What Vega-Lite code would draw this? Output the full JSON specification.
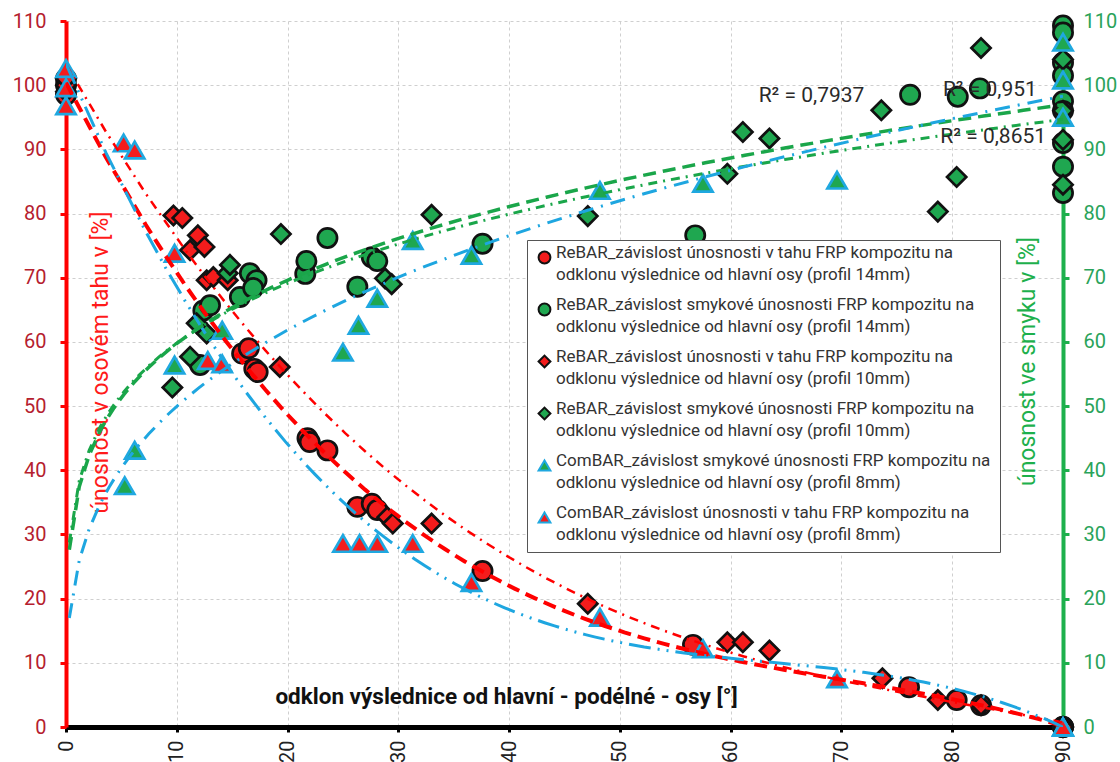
{
  "$schema": "https://vega.github.io/schema/vega-lite/v6.json",
  "width": 997,
  "height": 706,
  "autosize": "none",
  "padding": {"left": 66, "top": 21, "right": 57, "bottom": 35},
  "background": "white",
  "config": {
    "view": {"stroke": null},
    "font": "Roboto",
    "style": {"guide-label": {"lineHeight": 22}}
  },
  "datasets": {
    "names": [
      {"k": 1, "series": "ReBAR_závislost únosnosti v tahu FRP kompozitu na\nodklonu výslednice od hlavní osy (profil 14mm)"},
      {"k": 2, "series": "ReBAR_závislost smykové únosnosti FRP kompozitu na\nodklonu výslednice od hlavní osy (profil 14mm)"},
      {"k": 3, "series": "ReBAR_závislost únosnosti v tahu FRP kompozitu na\nodklonu výslednice od hlavní osy (profil 10mm)"},
      {"k": 4, "series": "ReBAR_závislost smykové únosnosti FRP kompozitu na\nodklonu výslednice od hlavní osy (profil 10mm)"},
      {"k": 5, "series": "ComBAR_závislost smykové únosnosti FRP kompozitu na\nodklonu výslednice od hlavní osy (profil 8mm)"},
      {"k": 6, "series": "ComBAR_závislost únosnosti v tahu FRP kompozitu na\nodklonu výslednice od hlavní osy (profil 8mm)"}
    ],
    "r2": [
      {"label": "R² = 0,7937", "x": 67.3, "y": 98.3},
      {"label": "R² = 0,951", "x": 83.4, "y": 99.2},
      {"label": "R² = 0,8651", "x": 83.7, "y": 91.9}
    ],
    "pts": [
      {"k": 1, "x": 0, "y": 98.5}, {"k": 1, "x": 0, "y": 100}, {"k": 1, "x": 0, "y": 101},
      {"k": 1, "x": 15.9, "y": 58.2}, {"k": 1, "x": 16.5, "y": 59.0}, {"k": 1, "x": 17.0, "y": 55.8}, {"k": 1, "x": 17.3, "y": 55.3},
      {"k": 1, "x": 21.8, "y": 45.0}, {"k": 1, "x": 22.0, "y": 44.4}, {"k": 1, "x": 23.6, "y": 43.1},
      {"k": 1, "x": 26.3, "y": 34.3}, {"k": 1, "x": 27.6, "y": 34.8}, {"k": 1, "x": 28.1, "y": 33.8},
      {"k": 1, "x": 37.6, "y": 24.3}, {"k": 1, "x": 56.6, "y": 12.8}, {"k": 1, "x": 76.1, "y": 6.2},
      {"k": 1, "x": 80.4, "y": 4.2}, {"k": 1, "x": 82.6, "y": 3.4},
      {"k": 1, "x": 90, "y": 0}, {"k": 1, "x": 90, "y": 0}, {"k": 1, "x": 90, "y": 0},

      {"k": 2, "x": 12.1, "y": 56.4}, {"k": 2, "x": 12.4, "y": 64.9}, {"k": 2, "x": 13.0, "y": 65.7},
      {"k": 2, "x": 15.7, "y": 67.0}, {"k": 2, "x": 16.6, "y": 70.7}, {"k": 2, "x": 17.2, "y": 69.6}, {"k": 2, "x": 16.9, "y": 68.4},
      {"k": 2, "x": 21.6, "y": 70.6}, {"k": 2, "x": 21.7, "y": 72.6}, {"k": 2, "x": 23.6, "y": 76.2},
      {"k": 2, "x": 26.3, "y": 68.6}, {"k": 2, "x": 27.6, "y": 73.2}, {"k": 2, "x": 28.1, "y": 72.6},
      {"k": 2, "x": 37.6, "y": 75.3}, {"k": 2, "x": 56.8, "y": 76.6}, {"k": 2, "x": 76.2, "y": 98.5},
      {"k": 2, "x": 80.5, "y": 98.2}, {"k": 2, "x": 82.5, "y": 99.5},
      {"k": 2, "x": 90, "y": 109.3}, {"k": 2, "x": 90, "y": 108.2}, {"k": 2, "x": 90, "y": 103.5}, {"k": 2, "x": 90, "y": 101.5},
      {"k": 2, "x": 90, "y": 97.5}, {"k": 2, "x": 90, "y": 96}, {"k": 2, "x": 90, "y": 91}, {"k": 2, "x": 90, "y": 87.3}, {"k": 2, "x": 90, "y": 83.2},

      {"k": 3, "x": 0, "y": 99}, {"k": 3, "x": 0, "y": 100}, {"k": 3, "x": 0, "y": 101},
      {"k": 3, "x": 9.7, "y": 79.7}, {"k": 3, "x": 10.5, "y": 79.3},
      {"k": 3, "x": 11.9, "y": 76.6}, {"k": 3, "x": 11.2, "y": 74.3}, {"k": 3, "x": 12.5, "y": 74.8},
      {"k": 3, "x": 12.7, "y": 69.6}, {"k": 3, "x": 13.3, "y": 70.1}, {"k": 3, "x": 14.6, "y": 69.6},
      {"k": 3, "x": 19.3, "y": 56.1}, {"k": 3, "x": 29.0, "y": 32.7}, {"k": 3, "x": 29.5, "y": 31.7},
      {"k": 3, "x": 33.0, "y": 31.7}, {"k": 3, "x": 47.1, "y": 19.2}, {"k": 3, "x": 59.7, "y": 13.2},
      {"k": 3, "x": 61.1, "y": 13.2}, {"k": 3, "x": 63.5, "y": 11.9}, {"k": 3, "x": 73.7, "y": 7.6},
      {"k": 3, "x": 78.7, "y": 4.2}, {"k": 3, "x": 82.6, "y": 3.4},
      {"k": 3, "x": 90, "y": 0}, {"k": 3, "x": 90, "y": 0}, {"k": 3, "x": 90, "y": 0},

      {"k": 4, "x": 9.6, "y": 52.9}, {"k": 4, "x": 11.2, "y": 57.7}, {"k": 4, "x": 11.8, "y": 62.9},
      {"k": 4, "x": 12.7, "y": 61.3}, {"k": 4, "x": 14.6, "y": 70.7}, {"k": 4, "x": 14.8, "y": 72.0},
      {"k": 4, "x": 19.4, "y": 76.8}, {"k": 4, "x": 28.8, "y": 69.9}, {"k": 4, "x": 29.4, "y": 69.0},
      {"k": 4, "x": 33.0, "y": 79.8}, {"k": 4, "x": 47.1, "y": 79.6}, {"k": 4, "x": 59.7, "y": 86.2},
      {"k": 4, "x": 61.1, "y": 92.7}, {"k": 4, "x": 63.5, "y": 91.7}, {"k": 4, "x": 73.6, "y": 96.1},
      {"k": 4, "x": 78.7, "y": 80.3}, {"k": 4, "x": 80.4, "y": 85.7}, {"k": 4, "x": 82.6, "y": 105.8},
      {"k": 4, "x": 90, "y": 104}, {"k": 4, "x": 90, "y": 96}, {"k": 4, "x": 90, "y": 91.5}, {"k": 4, "x": 90, "y": 84.5},

      {"k": 5, "x": 5.3, "y": 37.6}, {"k": 5, "x": 6.2, "y": 43.1}, {"k": 5, "x": 9.8, "y": 56.4},
      {"k": 5, "x": 14.1, "y": 61.8}, {"k": 5, "x": 25.0, "y": 58.4}, {"k": 5, "x": 26.4, "y": 62.6},
      {"k": 5, "x": 28.1, "y": 66.8}, {"k": 5, "x": 31.3, "y": 75.8}, {"k": 5, "x": 36.6, "y": 73.5},
      {"k": 5, "x": 48.2, "y": 83.6}, {"k": 5, "x": 57.5, "y": 84.7}, {"k": 5, "x": 69.6, "y": 85.2},
      {"k": 5, "x": 90, "y": 106.7}, {"k": 5, "x": 90, "y": 100.8}, {"k": 5, "x": 90, "y": 95.0},

      {"k": 6, "x": 0, "y": 102.6}, {"k": 6, "x": 0, "y": 99.6}, {"k": 6, "x": 0, "y": 96.8},
      {"k": 6, "x": 5.2, "y": 91.0}, {"k": 6, "x": 6.2, "y": 89.9}, {"k": 6, "x": 9.8, "y": 73.8},
      {"k": 6, "x": 12.8, "y": 57.1}, {"k": 6, "x": 14.1, "y": 56.6}, {"k": 6, "x": 25.0, "y": 28.6},
      {"k": 6, "x": 26.5, "y": 28.6}, {"k": 6, "x": 28.1, "y": 28.6}, {"k": 6, "x": 31.3, "y": 28.6},
      {"k": 6, "x": 36.6, "y": 22.5}, {"k": 6, "x": 48.2, "y": 17.1}, {"k": 6, "x": 57.5, "y": 12.2},
      {"k": 6, "x": 69.6, "y": 7.5},
      {"k": 6, "x": 90, "y": 0}, {"k": 6, "x": 90, "y": 0}, {"k": 6, "x": 90, "y": 0}
    ]
  },
  "data": {"name": "pts"},
  "transform": [
    {"lookup": "k", "from": {"data": {"name": "names"}, "key": "k", "fields": ["series"]}}
  ],
  "resolve": {"axis": {"y": "independent"}},
  "layer": [
    {
      "mark": {"type": "point", "filled": true, "opacity": 1, "strokeWidth": 2.7, "size": 370},
      "encoding": {
        "x": {
          "field": "x", "type": "quantitative",
          "scale": {"domain": [0, 90], "nice": false},
          "axis": {
            "values": [0, 10, 20, 30, 40, 50, 60, 70, 80, 90],
            "title": "odklon výslednice od hlavní - podélné - osy [°]",
            "titleX": 440, "titleY": -24, "titleBaseline": "alphabetic", "titleAlign": "center",
            "titleFontSize": 22.5, "titleFontWeight": "bold", "titleColor": "#111", "titleFont": "Roboto",
            "labelAngle": -90, "labelAlign": "right", "labelBaseline": "middle",
            "labelFontSize": 20, "labelColor": "#222", "labelPadding": 8, "labelFont": "Roboto",
            "domainColor": "#000", "domainWidth": 5, "tickColor": "#000", "tickWidth": 3, "tickSize": 5,
            "grid": true, "gridColor": "#cfcfcf", "gridDash": [3, 3], "gridWidth": 1
          }
        },
        "y": {
          "field": "y", "type": "quantitative",
          "scale": {"domain": [0, 110], "nice": false},
          "axis": {
            "orient": "left",
            "values": [0, 10, 20, 30, 40, 50, 60, 70, 80, 90, 100, 110],
            "title": "únosnost  v osovém tahu v [%]",
            "titleX": 34, "titleY": 341, "titleAngle": -90, "titleAlign": "center", "titleBaseline": "middle",
            "titleColor": "#ff1a1a", "titleFontSize": 23, "titleFontWeight": "normal", "titleFont": "Roboto",
            "labelColor": "#b5202e", "labelFontSize": 20, "labelPadding": 14, "labelFont": "Roboto",
            "tickColor": "#ff0000", "tickSize": 6, "tickWidth": 3,
            "domainColor": "#ff0000", "domainWidth": 4,
            "grid": true, "gridColor": "#cfcfcf", "gridDash": [3, 3], "gridWidth": 1
          }
        },
        "shape": {
          "field": "series", "type": "nominal", "sort": {"field": "k", "op": "min"},
          "scale": {"range": ["circle", "circle", "diamond", "diamond", "triangle-up", "triangle-up"]},
          "legend": {
            "title": null, "orient": "none", "legendX": 461, "legendY": 219,
            "fillColor": "white", "strokeColor": "#555", "padding": 9,
            "labelFont": "Roboto", "labelFontSize": 17, "labelColor": "#333", "labelLimit": 700,
            "labelBaseline": "alphabetic",
            "symbolSize": 140, "symbolStrokeWidth": 2, "rowPadding": 12, "labelOffset": 3,
            "labelExpr": "split(datum.label, '\\n')"
          }
        },
        "fill": {
          "field": "series", "type": "nominal", "sort": {"field": "k", "op": "min"},
          "scale": {"range": ["#f41c1c", "#1fa750", "#f41c1c", "#1fa750", "#1fa750", "#f41c1c"]},
          "legend": {
            "title": null, "orient": "none", "legendX": 461, "legendY": 219,
            "fillColor": "white", "strokeColor": "#555", "padding": 9,
            "labelFont": "Roboto", "labelFontSize": 17, "labelColor": "#333", "labelLimit": 700,
            "labelBaseline": "alphabetic",
            "symbolSize": 140, "symbolStrokeWidth": 2, "rowPadding": 12, "labelOffset": 3,
            "labelExpr": "split(datum.label, '\\n')"
          }
        },
        "stroke": {
          "field": "series", "type": "nominal", "sort": {"field": "k", "op": "min"},
          "scale": {"range": ["#111111", "#111111", "#111111", "#111111", "#1fa8e0", "#1fa8e0"]},
          "legend": {
            "title": null, "orient": "none", "legendX": 461, "legendY": 219,
            "fillColor": "white", "strokeColor": "#555", "padding": 9,
            "labelFont": "Roboto", "labelFontSize": 17, "labelColor": "#333", "labelLimit": 700,
            "labelBaseline": "alphabetic",
            "symbolSize": 140, "symbolStrokeWidth": 2, "rowPadding": 12, "labelOffset": 3,
            "labelExpr": "split(datum.label, '\\n')"
          }
        }
      }
    },
    {
      "transform": [
        {"filter": "datum.k == 1 || datum.k == 3 || datum.k == 6"},
        {"regression": "y", "on": "x", "groupby": ["k"], "method": "poly", "order": 3, "extent": [0, 90]}
      ],
      "mark": {"type": "line", "clip": true},
      "encoding": {
        "x": {"field": "x", "type": "quantitative"},
        "y": {"field": "y", "type": "quantitative", "scale": {"domain": [0, 110], "nice": false}, "axis": null},
        "color": {"field": "k", "type": "nominal", "legend": null,
          "scale": {"domain": [1, 2, 3, 4, 5, 6], "range": ["#ff0000", "#1aa64a", "#ff0000", "#1aa64a", "#1ea6e0", "#1ea6e0"]}},
        "strokeDash": {"field": "k", "type": "nominal", "legend": null,
          "scale": {"domain": [1, 2, 3, 4, 5, 6], "range": [[13, 7], [13, 7], [9, 6, 2, 6], [9, 6, 2, 6], [15, 8, 2, 8], [22, 7, 2, 7, 2, 7]]}},
        "strokeWidth": {"field": "k", "type": "ordinal", "legend": null,
          "scale": {"type": "ordinal", "domain": [1, 2, 3, 4, 5, 6], "range": [4, 3.5, 2.5, 3, 3, 3]}}
      }
    },
    {
      "transform": [
        {"filter": "datum.k == 2 || datum.k == 4 || datum.k == 5"},
        {"regression": "y", "on": "x", "groupby": ["k"], "method": "pow", "extent": [0.3, 90]}
      ],
      "mark": {"type": "line", "clip": true},
      "encoding": {
        "x": {"field": "x", "type": "quantitative"},
        "y": {
          "field": "y", "type": "quantitative",
          "scale": {"domain": [0, 110], "nice": false},
          "axis": {
            "orient": "right",
            "values": [0, 10, 20, 30, 40, 50, 60, 70, 80, 90, 100, 110],
            "title": "únosnost ve smyku v [%]",
            "titleX": -36, "titleY": 340, "titleAngle": -90, "titleAlign": "center", "titleBaseline": "middle",
            "titleColor": "#1db04c", "titleFontSize": 23, "titleFontWeight": "normal", "titleFont": "Roboto",
            "labelColor": "#2aa35a", "labelFontSize": 20, "labelPadding": 14, "labelFont": "Roboto",
            "tickColor": "#1db04c", "tickSize": 6, "tickWidth": 3,
            "domainColor": "#1db04c", "domainWidth": 4,
            "grid": false
          }
        },
        "color": {"field": "k", "type": "nominal", "legend": null,
          "scale": {"domain": [1, 2, 3, 4, 5, 6], "range": ["#ff0000", "#1aa64a", "#ff0000", "#1aa64a", "#1ea6e0", "#1ea6e0"]}},
        "strokeDash": {"field": "k", "type": "nominal", "legend": null,
          "scale": {"domain": [1, 2, 3, 4, 5, 6], "range": [[13, 7], [13, 7], [9, 6, 2, 6], [9, 6, 2, 6], [15, 8, 2, 8], [22, 7, 2, 7, 2, 7]]}},
        "strokeWidth": {"field": "k", "type": "ordinal", "legend": null,
          "scale": {"type": "ordinal", "domain": [1, 2, 3, 4, 5, 6], "range": [4, 3.5, 2.5, 3, 3, 3]}}
      }
    },
    {
      "data": {"name": "r2"},
      "mark": {"type": "text", "font": "Roboto", "fontSize": 21, "color": "#2a2a2a"},
      "encoding": {
        "x": {"field": "x", "type": "quantitative"},
        "y": {"field": "y", "type": "quantitative", "scale": {"domain": [0, 110], "nice": false}, "axis": null},
        "text": {"field": "label"}
      }
    }
  ]
}
